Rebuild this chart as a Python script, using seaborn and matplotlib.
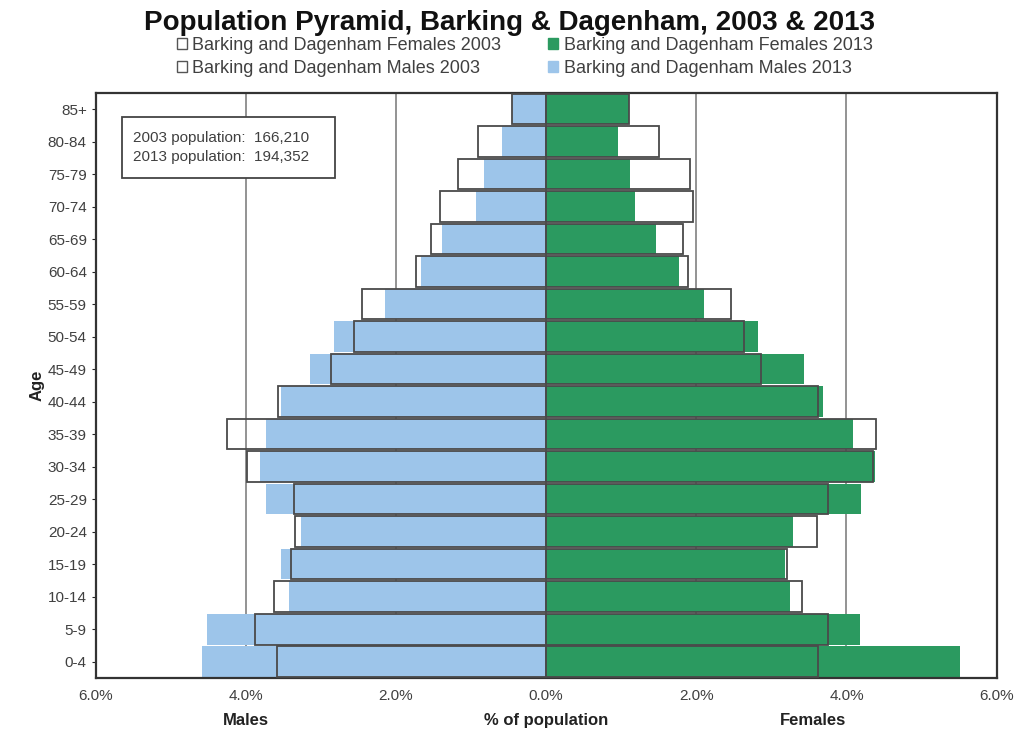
import matplotlib
matplotlib.use("Agg")
import matplotlib.pyplot as plt
from matplotlib.patches import Patch, Rectangle
import seaborn as sns
import pandas as pd

ages = ["85+", "80-84", "75-79", "70-74", "65-69", "60-64", "55-59", "50-54",
        "45-49", "40-44", "35-39", "30-34", "25-29", "20-24", "15-19", "10-14",
        "5-9", "0-4"]
males_2003 = [0.45, 0.91, 1.17, 1.42, 1.53, 1.73, 2.45, 2.56, 2.86, 3.57,
              4.25, 3.99, 3.36, 3.35, 3.40, 3.62, 3.88, 3.59]
males_2013 = [0.45, 0.59, 0.83, 0.93, 1.39, 1.67, 2.15, 2.83, 3.15, 3.53,
              3.73, 3.81, 3.73, 3.27, 3.53, 3.43, 4.52, 4.58]
females_2003 = [1.10, 1.50, 1.92, 1.95, 1.82, 1.89, 2.46, 2.64, 2.86, 3.62,
                4.40, 4.35, 3.76, 3.61, 3.21, 3.41, 3.75, 3.62]
females_2013 = [1.10, 0.96, 1.11, 1.18, 1.46, 1.77, 2.10, 2.82, 3.44, 3.69,
                4.09, 4.38, 4.20, 3.29, 3.18, 3.25, 4.18, 5.51]
xticks = [-6, -4, -2, 0, 2, 4, 6]
xticklabels = ["6.0%", "4.0%", "2.0%", "0.0%", "2.0%", "4.0%", "6.0%"]

df = pd.DataFrame({
    "age": ages,
    "m03": [-v for v in males_2003],
    "m13": [-v for v in males_2013],
    "f03": females_2003,
    "f13": females_2013,
})

sns.set_style("white")
plt.rcParams["font.family"] = ["Liberation Sans", "DejaVu Sans"]

GREEN = "#2b9a60"
BLUE = "#9dc5ea"
EDGE = "#4a4a4a"
TXT = "#404040"

fig = plt.figure(figsize=(10.19, 7.31), dpi=100)
ax = fig.add_axes([0.094, 0.0725, 0.884, 0.8005])

for xv in [-4, -2, 2, 4]:
    ax.axvline(xv, color="#8a8a8a", lw=1.3, zorder=0)

bw = 0.94
sns.barplot(data=df, x="m13", y="age", order=ages, color=BLUE, saturation=1,
            width=bw, orient="h", ax=ax, zorder=2, edgecolor="none")
sns.barplot(data=df, x="f13", y="age", order=ages, color=GREEN, saturation=1,
            width=bw, orient="h", ax=ax, zorder=2, edgecolor="none")
sns.barplot(data=df, x="m03", y="age", order=ages, color=EDGE, fill=False,
            width=bw, orient="h", ax=ax, zorder=3, linewidth=1.3)
sns.barplot(data=df, x="f03", y="age", order=ages, color=EDGE, fill=False,
            width=bw, orient="h", ax=ax, zorder=3, linewidth=1.3)

ax.set_xlim(-6, 6)
ax.set_ylim(len(ages) - 0.5, -0.5)
ax.set_xticks(xticks)
ax.set_xticklabels(xticklabels, color=TXT, fontsize=11)
ax.tick_params(axis="y", labelsize=11, labelcolor=TXT, length=3, left=True)
ax.tick_params(axis="x", length=0, pad=8)
ax.set_xlabel("")
ax.set_ylabel("Age", fontsize=12, fontweight="bold", color="#222222", labelpad=2)

for s in ax.spines.values():
    s.set_color("#333333")
    s.set_linewidth(1.6)

# axis bottom labels
for xv, lab in [(-4, "Males"), (0, "% of population"), (3.55, "Females")]:
    ax.text(xv, -0.072, lab, transform=ax.get_xaxis_transform(), ha="center",
            va="center", fontsize=12, fontweight="bold", color="#222222")

# info box
ax.add_patch(Rectangle((0.029, 0.855), 0.237, 0.104, transform=ax.transAxes,
                       fc="white", ec="#444444", lw=1.3, zorder=5))
ax.text(0.041, 0.907, "2003 population:  166,210\n2013 population:  194,352",
        transform=ax.transAxes, ha="left", va="center", fontsize=11, color=TXT,
        linespacing=1.45, zorder=6)

fig.text(0.5, 0.968, "Population Pyramid, Barking & Dagenham, 2003 & 2013",
         ha="center", va="center", fontsize=20, fontweight="bold", color="#111111")

handles = [
    Patch(facecolor="white", edgecolor="#555555", label="Barking and Dagenham Females 2003"),
    Patch(facecolor="white", edgecolor="#555555", label="Barking and Dagenham Males 2003"),
    Patch(facecolor=GREEN, edgecolor=GREEN, label="Barking and Dagenham Females 2013"),
    Patch(facecolor=BLUE, edgecolor=BLUE, label="Barking and Dagenham Males 2013"),
]
leg = fig.legend(handles=handles, loc="center", bbox_to_anchor=(0.515, 0.922), ncol=2,
                 frameon=False, fontsize=13, handlelength=0.55, handleheight=0.55,
                 handletextpad=0.3, columnspacing=2.6, labelspacing=0.3,
                 borderpad=0)
for t in leg.get_texts():
    t.set_color(TXT)

fig.savefig("out.png", dpi=100)
